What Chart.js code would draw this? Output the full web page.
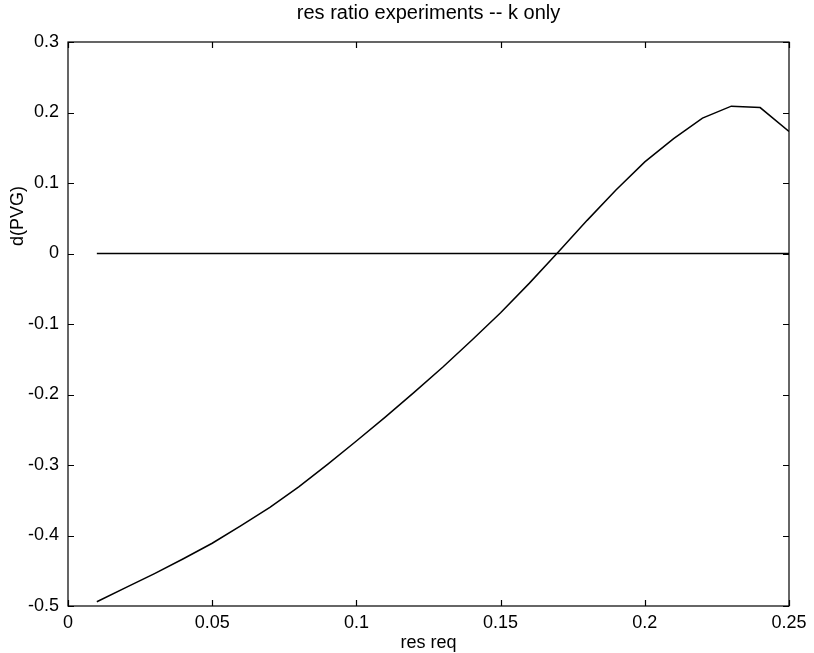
<!DOCTYPE html>
<html>
<head>
<meta charset="utf-8">
<script src="https://cdn.jsdelivr.net/npm/chart.js@4/dist/chart.umd.min.js"></script>
<style>
  html, body { margin: 0; padding: 0; background: #ffffff; }
  #wrap { width: 814px; height: 653px; }
</style>
</head>
<body>
<div id="wrap"><canvas id="c" width="814" height="653"></canvas></div>
<script>
// ---- data ----
const resReq = [0.01, 0.02, 0.03, 0.04, 0.05, 0.06, 0.07, 0.08, 0.09, 0.10,
                0.11, 0.12, 0.13, 0.14, 0.15, 0.16, 0.17, 0.18, 0.19, 0.20,
                0.21, 0.22, 0.23, 0.24, 0.25];
const dPVG = [-0.494, -0.474, -0.454, -0.433, -0.411, -0.386, -0.360, -0.331, -0.299, -0.266,
              -0.232, -0.197, -0.161, -0.123, -0.084, -0.042, 0.002, 0.047, 0.090, 0.130,
              0.163, 0.192, 0.209, 0.207, 0.173];
const zeroX = [0.01, 0.25];
const zeroY = [0, 0];
const xTicks = [0, 0.05, 0.1, 0.15, 0.2, 0.25];
const yTicks = [-0.5, -0.4, -0.3, -0.2, -0.1, 0, 0.1, 0.2, 0.3];
const titleText = 'res ratio experiments -- k only';
const xLabel = 'res req';
const yLabel = 'd(PVG)';

const FONT = '"Liberation Sans", Arial, Helvetica, sans-serif';

function toPoints(xs, ys) { return xs.map((x, i) => ({ x: x, y: ys[i] })); }
function fmt(v) { return String(Number(v.toFixed(3))); }

const frame = {
  id: 'frame',
  afterDatasetsDraw(chart) {
    const { ctx, chartArea: a, scales } = chart;
    ctx.save();
    ctx.strokeStyle = '#000';
    ctx.lineWidth = 1.2;
    ctx.strokeRect(a.left, a.top, a.right - a.left, a.bottom - a.top);
    const tl = 6;
    ctx.beginPath();
    xTicks.forEach(v => {
      const px = Math.round(scales.x.getPixelForValue(v)) + 0.5;
      ctx.moveTo(px, a.bottom); ctx.lineTo(px, a.bottom - tl);
      ctx.moveTo(px, a.top); ctx.lineTo(px, a.top + tl);
    });
    yTicks.forEach(v => {
      const py = Math.round(scales.y.getPixelForValue(v)) + 0.5;
      ctx.moveTo(a.left, py); ctx.lineTo(a.left + tl, py);
      ctx.moveTo(a.right, py); ctx.lineTo(a.right - tl, py);
    });
    ctx.stroke();

    ctx.fillStyle = '#000';
    ctx.textAlign = 'center';
    ctx.textBaseline = 'middle';
    const cx = (a.left + a.right) / 2;
    ctx.font = '20px ' + FONT;
    ctx.fillText(titleText, cx, 13);
    ctx.font = '18px ' + FONT;
    ctx.fillText(xLabel, cx, 643);
    ctx.translate(18, 216);
    ctx.rotate(-Math.PI / 2);
    ctx.fillText(yLabel, 0, 0);
    ctx.restore();
  }
};

new Chart(document.getElementById('c'), {
  type: 'scatter',
  data: {
    datasets: [
      {
        data: toPoints(resReq, dPVG),
        showLine: true,
        borderColor: '#000',
        borderWidth: 1.5,
        pointRadius: 0,
        tension: 0,
        fill: false
      },
      {
        data: toPoints(zeroX, zeroY),
        showLine: true,
        borderColor: '#000',
        borderWidth: 1.5,
        pointRadius: 0,
        fill: false
      }
    ]
  },
  options: {
    responsive: false,
    animation: false,
    events: [],
    layout: { padding: { top: 42, right: 25, bottom: 0, left: 0 } },
    plugins: { legend: { display: false }, tooltip: { enabled: false }, title: { display: false } },
    scales: {
      x: {
        type: 'linear',
        min: 0, max: 0.25,
        afterFit(s) { s.height = 47; },
        afterBuildTicks(s) { s.ticks = xTicks.map(v => ({ value: v })); },
        grid: { display: false, drawTicks: false },
        border: { display: false },
        ticks: {
          padding: 6,
          color: '#000',
          font: { family: FONT, size: 18 },
          maxRotation: 0,
          autoSkip: false,
          callback: v => fmt(v)
        }
      },
      y: {
        type: 'linear',
        min: -0.5, max: 0.3,
        afterFit(s) { s.width = 68; },
        afterBuildTicks(s) { s.ticks = yTicks.map(v => ({ value: v })); },
        grid: { display: false, drawTicks: false },
        border: { display: false },
        ticks: {
          padding: 9,
          color: '#000',
          font: { family: FONT, size: 18 },
          autoSkip: false,
          callback: v => fmt(v)
        }
      }
    }
  },
  plugins: [frame]
});
</script>
</body>
</html>
